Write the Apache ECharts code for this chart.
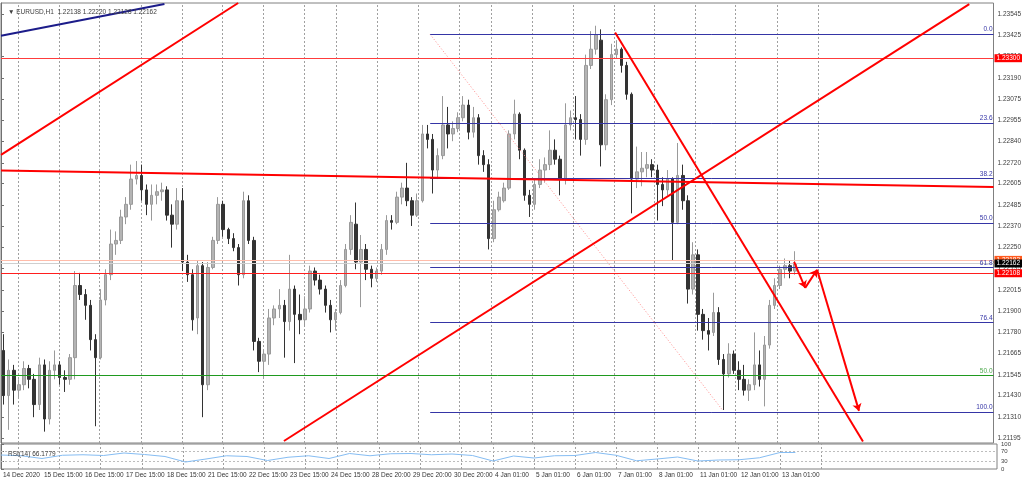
<!DOCTYPE html>
<html><head><meta charset="utf-8">
<script src="https://cdn.jsdelivr.net/npm/echarts@6/dist/echarts.min.js"></script>
<style>html,body{margin:0;padding:0;background:#fff}#c{width:1024px;height:481px}</style>
</head><body><div id="c"></div>
<script>
// ---- data (H1 EURUSD, aggregated into 3-hour candles) ----
const opens = [1.2168,1.2143,1.2157,1.2146,1.2149,1.2158,1.2152,1.2138,1.2160,1.2130,
1.2157,1.2160,1.2153,1.2152,1.2164,1.2204,1.2199,1.2193,1.2174,1.2164,
1.2196,1.2210,1.2227,1.2229,1.2242,1.2249,1.2263,1.2265,1.2257,1.2249,
1.2254,1.2256,1.2257,1.2243,1.2238,1.2251,1.2217,1.2210,1.2186,1.2215,
1.2149,1.2214,1.2229,1.2249,1.2235,1.2230,1.2225,1.2210,1.2251,1.2229,
1.2173,1.2162,1.2166,1.2186,1.2191,1.2193,1.2184,1.2202,1.2188,1.2185,
1.2191,1.2212,1.2207,1.2202,1.2193,1.2185,1.2189,1.2204,1.2224,1.2238,
1.2217,1.2224,1.2213,1.2208,1.2212,1.2224,1.2240,1.2239,1.2253,1.2258,
1.2251,1.2243,1.2251,1.2288,1.2285,1.2268,1.2276,1.2293,1.2288,1.2291,
1.2297,1.2304,1.2289,1.2297,1.2276,1.2271,1.2230,1.2246,1.2251,1.2258,
1.2288,1.2299,1.2279,1.2254,1.2249,1.2260,1.2268,1.2271,1.2279,1.2274,
1.2263,1.2293,1.2297,1.2296,1.2285,1.2326,1.2335,1.2340,1.2282,1.2307,
1.2332,1.2335,1.2326,1.2310,1.2263,1.2267,1.2269,1.2271,1.2268,1.2260,
1.2257,1.2263,1.2239,1.2265,1.2251,1.2202,1.2221,1.2188,1.2179,1.2178,
1.2189,1.2163,1.2155,1.2166,1.2157,1.2152,1.2146,1.2149,1.2160,1.2152,
1.2171,1.2193,1.2204,1.2213,1.2215,1.2212];
const closes = [1.2143,1.2157,1.2146,1.2149,1.2158,1.2152,1.2138,1.2160,1.2130,1.2157,
1.2160,1.2153,1.2152,1.2164,1.2204,1.2199,1.2193,1.2174,1.2164,1.2196,
1.2210,1.2227,1.2229,1.2242,1.2249,1.2263,1.2265,1.2257,1.2249,1.2254,
1.2256,1.2257,1.2243,1.2238,1.2251,1.2217,1.2210,1.2185,1.2215,1.2149,
1.2214,1.2229,1.2249,1.2235,1.2230,1.2225,1.2210,1.2251,1.2229,1.2173,
1.2162,1.2166,1.2186,1.2191,1.2193,1.2184,1.2202,1.2188,1.2185,1.2191,
1.2212,1.2207,1.2202,1.2193,1.2185,1.2189,1.2204,1.2224,1.2239,1.2217,
1.2224,1.2213,1.2208,1.2212,1.2224,1.2240,1.2239,1.2253,1.2258,1.2251,
1.2243,1.2251,1.2288,1.2285,1.2268,1.2276,1.2293,1.2288,1.2291,1.2297,
1.2304,1.2289,1.2297,1.2276,1.2271,1.2230,1.2246,1.2253,1.2258,1.2288,
1.2299,1.2279,1.2254,1.2249,1.2260,1.2268,1.2271,1.2279,1.2274,1.2263,
1.2293,1.2297,1.2296,1.2285,1.2326,1.2335,1.2343,1.2282,1.2307,1.2332,
1.2335,1.2326,1.2310,1.2263,1.2267,1.2269,1.2271,1.2268,1.2260,1.2257,
1.2263,1.2239,1.2265,1.2251,1.2202,1.2221,1.2188,1.2179,1.2177,1.2189,
1.2163,1.2155,1.2166,1.2157,1.2152,1.2146,1.2149,1.2160,1.2152,1.2171,
1.2193,1.2204,1.2213,1.2215,1.2212,1.2216];
const lows = [1.2138,1.2124,1.2138,1.2142,1.2146,1.2147,1.2131,1.2135,1.2123,1.2127,
1.2152,1.2149,1.2145,1.2149,1.2152,1.2196,1.2185,1.2168,1.2126,1.2163,
1.2193,1.2207,1.2221,1.2227,1.2238,1.2246,1.2260,1.2251,1.2243,1.2240,
1.2249,1.2251,1.2240,1.2225,1.2235,1.2212,1.2206,1.2179,1.2177,1.2131,
1.2146,1.2213,1.2227,1.2231,1.2227,1.2223,1.2204,1.2208,1.2227,1.2168,
1.2156,1.2153,1.2160,1.2182,1.2186,1.2164,1.2179,1.2161,1.2177,1.2181,
1.2189,1.2204,1.2199,1.2189,1.2178,1.2179,1.2188,1.2203,1.2221,1.2213,
1.2192,1.2207,1.2203,1.2206,1.2210,1.2221,1.2235,1.2238,1.2249,1.2248,
1.2237,1.2242,1.2250,1.2280,1.2255,1.2263,1.2274,1.2280,1.2284,1.2289,
1.2295,1.2285,1.2286,1.2271,1.2267,1.2224,1.2228,1.2245,1.2250,1.2257,
1.2285,1.2274,1.2251,1.2242,1.2246,1.2258,1.2261,1.2268,1.2271,1.2254,
1.2260,1.2290,1.2285,1.2276,1.2282,1.2324,1.2332,1.2270,1.2279,1.2304,
1.2330,1.2322,1.2307,1.2244,1.2258,1.2259,1.2264,1.2264,1.2240,1.2248,
1.2254,1.2218,1.2238,1.2246,1.2194,1.2199,1.2179,1.2174,1.2168,1.2176,
1.2160,1.2135,1.2153,1.2155,1.2146,1.2143,1.2140,1.2146,1.2148,1.2137,
1.2169,1.2191,1.2202,1.2208,1.2208,1.2210];
const highs = [1.2177,1.2163,1.2160,1.2152,1.2162,1.2160,1.2155,1.2164,1.2163,1.2162,
1.2168,1.2162,1.2157,1.2166,1.2212,1.2211,1.2202,1.2196,1.2177,1.2202,
1.2213,1.2235,1.2234,1.2246,1.2253,1.2271,1.2273,1.2271,1.2260,1.2260,
1.2260,1.2261,1.2259,1.2249,1.2258,1.2258,1.2221,1.2213,1.2218,1.2217,
1.2217,1.2231,1.2253,1.2251,1.2236,1.2233,1.2227,1.2256,1.2254,1.2231,
1.2175,1.2168,1.2191,1.2193,1.2202,1.2196,1.2221,1.2204,1.2199,1.2198,
1.2215,1.2214,1.2210,1.2204,1.2196,1.2191,1.2207,1.2227,1.2243,1.2250,
1.2232,1.2227,1.2215,1.2214,1.2227,1.2243,1.2243,1.2256,1.2261,1.2272,
1.2253,1.2255,1.2293,1.2293,1.2288,1.2280,1.2309,1.2303,1.2295,1.2300,
1.2309,1.2307,1.2303,1.2299,1.2279,1.2274,1.2251,1.2256,1.2261,1.2290,
1.2307,1.2300,1.2280,1.2257,1.2263,1.2274,1.2275,1.2290,1.2285,1.2276,
1.2305,1.2301,1.2309,1.2299,1.2332,1.2345,1.2348,1.2346,1.2310,1.2338,
1.2340,1.2336,1.2328,1.2311,1.2281,1.2278,1.2278,1.2274,1.2271,1.2264,
1.2268,1.2264,1.2283,1.2271,1.2254,1.2228,1.2224,1.2191,1.2186,1.2200,
1.2192,1.2166,1.2172,1.2168,1.2162,1.2160,1.2152,1.2178,1.2168,1.2176,
1.2196,1.2208,1.2215,1.2219,1.2218,1.2223];

const timeLabels = ['14 Dec 2020','15 Dec 15:00','16 Dec 15:00','17 Dec 15:00','18 Dec 15:00',
'21 Dec 15:00','22 Dec 15:00','23 Dec 15:00','24 Dec 15:00','28 Dec 20:00','29 Dec 20:00',
'30 Dec 20:00','4 Jan 01:00','5 Jan 01:00','6 Jan 01:00','7 Jan 01:00','8 Jan 01:00',
'11 Jan 01:00','12 Jan 01:00','13 Jan 01:00'];
const priceTicks = [1.23545,1.23425,1.23310,1.23190,1.23075,1.22955,1.22840,1.22720,1.22605,
1.22485,1.22370,1.22250,1.22135,1.22015,1.21900,1.21780,1.21665,1.21545,1.21430,1.21310,1.21195];
const rsiTicks = [0,30,70,100];
const timeGrid = [3.32,11.32,19.32,27.51,35.51,43.32,51.32,59.32,65.56,73.76,81.76,89.76,
96.0,104.0,112.0,120.0,128.0,136.0,143.8,152.0,160.0];
const rsiSlots = [0,4,8,12,16,20,24,28,32,36,40,44,48,52,56,60,64,68,72,76,80,84,88,92,96,
100,104,108,112,116,120,124,128,132,136,140,144,148,152,155];
const rsiValues = [56,53,42,55,57,54,64,58,50,28,40,53,50,34,47,53,42,62,53,61,
62,57,60,54,32,52,44,53,54,66,55,33,40,48,32,36,37,45,66,66];
const rsiLevels = [70, 30];

const fibHigh = 1.23435, fibLow = 1.21340, fibStart = 84.04;
const fibLevels = [0, 23.6, 38.2, 50.0, 61.8, 76.4, 100.0];
const resistance = 1.23300, support = 1.22108, askPrice = 1.22182, bidPrice = 1.22162, greenLevel = 1.21540;
// trend lines: [slot, price] endpoints
const redTrends = [
  [[0, 1.22764], [46.44, 1.23606]],
  [[0, 1.22677], [194.34, 1.22586]],
  [[55.4, 1.21178], [189.6, 1.23600]],
  [[120.25, 1.23442], [168.78, 1.21175]]
];
const blueTrend = [[0, 1.23425], [32.0, 1.23601]];
const fibDiagonal = [[84.04, 1.23432], [141.27, 1.21350]];
const arrowPath = [[155.3, 1.22171], [157.46, 1.22027], [159.8, 1.22127], [168.0, 1.21345]];

// ---- chart ----
const xMax = 194.34, yMin = 1.21167, yMax = 1.23606;
const FONT = 'Liberation Sans';
const chart = echarts.init(document.getElementById('c'), null, {renderer: 'canvas'});

const candles = opens.map((o, i) => [i + 0.5, o, closes[i], lows[i], highs[i]]);
const FIB = '#3535a6';
const levelItems = fibLevels.map(r => {
  const p = fibHigh - (fibHigh - fibLow) * r / 100;
  return {coords: [[fibStart, p], [xMax, p]], lineStyle: {color: FIB, width: 1, opacity: 1},
    label: {show: true, position: 'insideEndTop', formatter: r.toFixed(1), color: FIB,
      fontSize: 6.5, distance: 1, fontFamily: FONT}};
});
function boxLabel(val, bg) {
  return {show: true, position: 'end', formatter: val.toFixed(5), backgroundColor: bg, color: '#fff',
    fontSize: 6.5, padding: [1, 2, 0, 2], distance: 1, fontFamily: FONT};
}
function hLine(p, color, label) {
  return {coords: [[0, p], [xMax, p]], lineStyle: {color: color, width: 1, opacity: 1}, label: label};
}
levelItems.push(
  hLine(greenLevel, '#1f9a1f', {show: true, position: 'insideEndTop', formatter: '50.0', color: '#4faa4f', fontSize: 6.5, distance: 1, fontFamily: FONT}),
  hLine(resistance, '#ff3c3c', boxLabel(resistance, '#ff0000')),
  hLine(support, '#ff1e1e', boxLabel(support, '#ff0000')),
  hLine(askPrice, '#ffbcaa', boxLabel(askPrice, '#ff5a1e')),
  hLine(bidPrice, '#cfcfcf', boxLabel(bidPrice, '#000000'))
);
const segs = [];
for (let i = 0; i < arrowPath.length - 1; i++) segs.push({coords: [arrowPath[i], arrowPath[i + 1]]});

const linesBase = {type: 'lines', coordinateSystem: 'cartesian2d', xAxisIndex: 0, yAxisIndex: 0, silent: true, polyline: false};

const option = {
  animation: false,
  textStyle: {fontFamily: FONT},
  title: [
    {text: '\u25BC EURUSD,H1  1.22138 1.22220 1.22128 1.22162', left: 3, top: 4,
      textStyle: {fontSize: 6.5, color: '#404040', fontWeight: 'normal', fontFamily: FONT}},
    {text: 'RSI(14) 66.1779', left: 3, top: 446,
      textStyle: {fontSize: 6.5, color: '#404040', fontWeight: 'normal', fontFamily: FONT}}
  ],
  grid: [
    {left: 1, top: 3, width: 996, height: 440, show: true, borderColor: '#808080', borderWidth: 1, backgroundColor: '#fff'},
    {left: 1, top: 444, width: 996, height: 25, show: true, borderColor: '#808080', borderWidth: 1, backgroundColor: '#fff'}
  ],
  xAxis: [
    {gridIndex: 0, type: 'value', min: 0, max: xMax, show: false},
    {gridIndex: 1, type: 'value', min: 0, max: xMax, interval: 8,
      axisLine: {show: false}, axisTick: {show: false}, splitLine: {show: false},
      axisLabel: {show: true, align: 'left', margin: 3, padding: [0, 0, 0, 2], fontSize: 6.5, color: '#333',
        hideOverlap: false, showMaxLabel: false,
        formatter: v => { const k = Math.round(v / 8); return Math.abs(v - k * 8) < 0.01 ? (timeLabels[k] || '') : ''; }}}
  ],
  yAxis: [
    {gridIndex: 0, type: 'value', position: 'right', min: yMin, max: yMax,
      axisLine: {show: true, lineStyle: {color: '#707070'}},
      axisTick: {show: true, length: 3, customValues: priceTicks, lineStyle: {color: '#707070'}},
      axisLabel: {show: true, customValues: priceTicks, formatter: v => v.toFixed(5), fontSize: 6.5, color: '#404040', margin: 4},
      splitLine: {show: false}},
    {gridIndex: 1, type: 'value', position: 'right', min: 0, max: 100,
      axisLine: {show: true, lineStyle: {color: '#707070'}},
      axisTick: {show: true, length: 3, customValues: rsiTicks, lineStyle: {color: '#707070'}},
      axisLabel: {show: true, customValues: rsiTicks, fontSize: 6, color: '#404040', margin: 4},
      splitLine: {show: false}}
  ],
  series: [
    Object.assign({}, linesBase, {z: 1, lineStyle: {color: '#a0a0a0', width: 1, type: [2, 2], opacity: 1},
      data: timeGrid.map(s => ({coords: [[s, yMin], [s, yMax]]}))}),
    Object.assign({}, linesBase, {xAxisIndex: 1, yAxisIndex: 1, z: 1, lineStyle: {color: '#a0a0a0', width: 1, type: [2, 2], opacity: 1},
      data: timeGrid.map(s => ({coords: [[s, 0], [s, 100]]})).concat(
        rsiLevels.map(v => ({coords: [[0, v], [xMax, v]], lineStyle: {color: '#bdbdbd', type: [2, 2]}})))}),
    {type: 'candlestick', xAxisIndex: 0, yAxisIndex: 0, z: 2, barWidth: 3,
      encode: {x: 0, y: [1, 2, 3, 4]},
      itemStyle: {color: '#b4b4b4', color0: '#333333', borderColor: '#9a9a9a', borderColor0: '#333333', borderWidth: 1},
      data: candles},
    Object.assign({}, linesBase, {z: 5, clip: false, lineStyle: {width: 1, opacity: 1}, label: {show: false}, data: levelItems}),
    Object.assign({}, linesBase, {z: 6, lineStyle: {color: '#ff0000', width: 2, opacity: 1},
      data: redTrends.map(c => ({coords: c}))}),
    Object.assign({}, linesBase, {z: 6, lineStyle: {color: '#1c1c8a', width: 2, opacity: 1},
      data: [{coords: blueTrend}]}),
    Object.assign({}, linesBase, {z: 4, lineStyle: {color: '#ff8c8c', width: 1, type: [1, 2], opacity: 1},
      data: [{coords: fibDiagonal}]}),
    Object.assign({}, linesBase, {z: 7, symbol: ['none', 'arrow'], symbolSize: 7,
      lineStyle: {color: '#ff0000', width: 2, opacity: 1}, data: segs}),
    {type: 'line', xAxisIndex: 1, yAxisIndex: 1, z: 3, showSymbol: false, silent: true,
      lineStyle: {color: '#86bdf3', width: 1},
      data: rsiSlots.map((s, i) => [s, rsiValues[i]])}
  ]
};
chart.setOption(option);
</script>
</body></html>
